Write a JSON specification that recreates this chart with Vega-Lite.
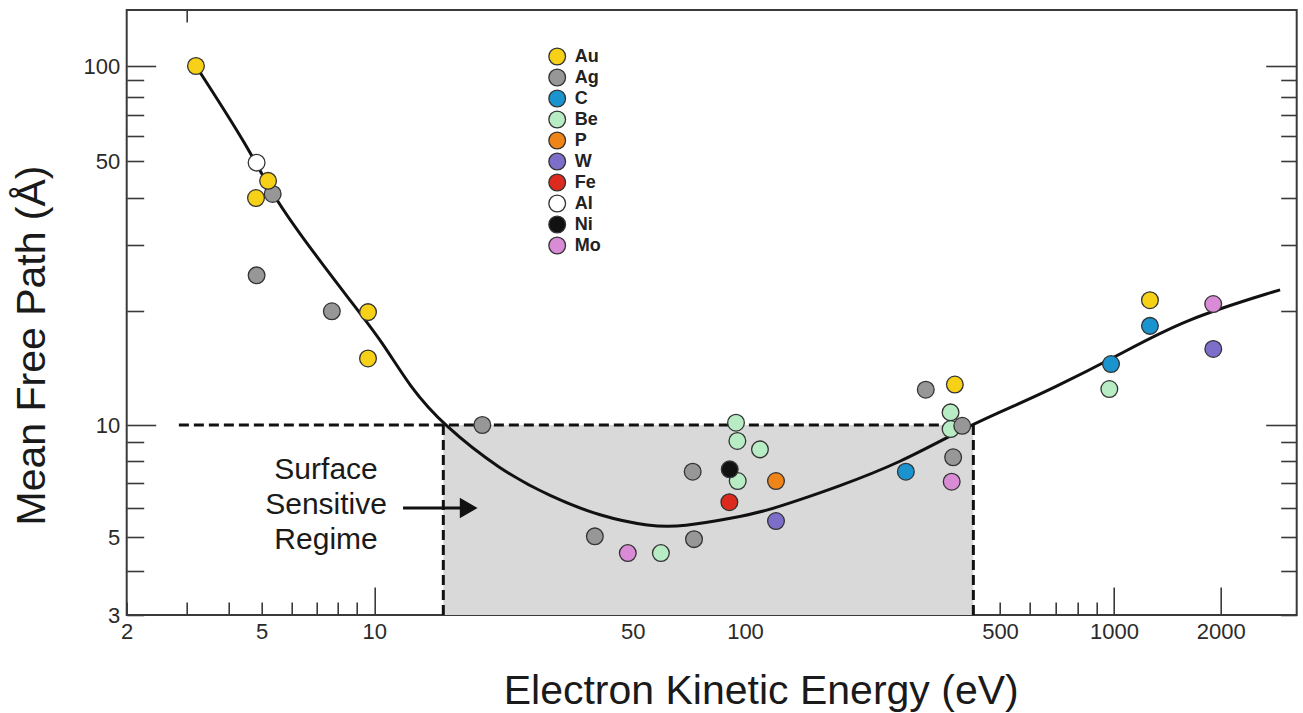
{
  "$schema": "https://vega.github.io/schema/vega-lite/v6.json",
  "width": 1170,
  "height": 605,
  "autosize": {"type": "none"},
  "padding": {"left": 126.7, "top": 10, "right": 6.3, "bottom": 98},
  "background": "white",
  "config": {
    "font": "Liberation Sans",
    "view": {"stroke": "#3a3a3a", "strokeWidth": 2},
    "axis": {
      "domain": false, "grid": false, "tickColor": "#3a3a3a", "tickWidth": 1.6,
      "labelColor": "#2a2a2a", "labelFont": "Liberation Sans", "labelFontSize": 22,
      "titleFont": "Liberation Sans", "titleFontWeight": "normal", "titleColor": "#1a1a1a"
    }
  },
  "datasets": {
    "points": [
      {"element": "Ag", "energy": 5.35, "mfp": 40.9},
      {"element": "Au", "energy": 3.2, "mfp": 100},
      {"element": "Au", "energy": 4.81, "mfp": 39.9},
      {"element": "Au", "energy": 5.2, "mfp": 44.3},
      {"element": "Au", "energy": 9.62, "mfp": 19.9},
      {"element": "Au", "energy": 9.62, "mfp": 15.0},
      {"element": "Au", "energy": 376, "mfp": 12.8},
      {"element": "Au", "energy": 1263, "mfp": 21.4},
      {"element": "Ag", "energy": 4.83, "mfp": 24.9},
      {"element": "Ag", "energy": 7.7, "mfp": 20.0},
      {"element": "Ag", "energy": 19.6, "mfp": 10.0},
      {"element": "Ag", "energy": 39.5, "mfp": 5.02},
      {"element": "Ag", "energy": 72.4, "mfp": 7.49},
      {"element": "Ag", "energy": 73.0, "mfp": 4.93},
      {"element": "Ag", "energy": 313, "mfp": 12.4},
      {"element": "Ag", "energy": 372, "mfp": 8.19},
      {"element": "C", "energy": 276, "mfp": 7.49},
      {"element": "C", "energy": 982, "mfp": 14.5},
      {"element": "C", "energy": 1263, "mfp": 18.3},
      {"element": "Be", "energy": 94.6, "mfp": 10.14},
      {"element": "Be", "energy": 95.4, "mfp": 9.06},
      {"element": "Be", "energy": 109.9, "mfp": 8.6},
      {"element": "Be", "energy": 95.6, "mfp": 7.07},
      {"element": "Be", "energy": 59.5, "mfp": 4.5},
      {"element": "Be", "energy": 366, "mfp": 10.8},
      {"element": "Be", "energy": 366, "mfp": 9.75},
      {"element": "Be", "energy": 972, "mfp": 12.45},
      {"element": "Ag", "energy": 394, "mfp": 9.95},
      {"element": "P", "energy": 121.6, "mfp": 7.07},
      {"element": "W", "energy": 121.6, "mfp": 5.52},
      {"element": "W", "energy": 1906, "mfp": 15.9},
      {"element": "Fe", "energy": 90.8, "mfp": 6.2},
      {"element": "Al", "energy": 4.83, "mfp": 49.5},
      {"element": "Ni", "energy": 91, "mfp": 7.6},
      {"element": "Mo", "energy": 48.5, "mfp": 4.5},
      {"element": "Mo", "energy": 368.6, "mfp": 7.04},
      {"element": "Mo", "energy": 1905, "mfp": 20.9}
    ],
    "curve": [
      {"e": 3.2, "m": 100}, {"e": 4.62, "m": 54.2}, {"e": 5.36, "m": 40.2},
      {"e": 7.01, "m": 27.9}, {"e": 8.61, "m": 21.4}, {"e": 10.56, "m": 16.5},
      {"e": 12.49, "m": 12.6}, {"e": 15.37, "m": 10.0}, {"e": 21.9, "m": 7.57},
      {"e": 29.9, "m": 6.42}, {"e": 40.8, "m": 5.68}, {"e": 55.7, "m": 5.33},
      {"e": 68.2, "m": 5.33}, {"e": 92.9, "m": 5.62}, {"e": 114.7, "m": 5.88},
      {"e": 141.5, "m": 6.3}, {"e": 174.2, "m": 6.75}, {"e": 266, "m": 7.9},
      {"e": 405, "m": 9.9}, {"e": 563, "m": 11.4}, {"e": 678, "m": 12.4},
      {"e": 1018, "m": 15.2}, {"e": 1565, "m": 19.0}, {"e": 2861, "m": 22.8}
    ],
    "region": [{"x1": 15.37, "x2": 422.6, "y1": 3, "y2": 10}],
    "dashes": [
      {"x1": 2.85, "x2": 422.6, "y1": 10, "y2": 10},
      {"x1": 15.37, "x2": 15.37, "y1": 3, "y2": 10},
      {"x1": 422.6, "x2": 422.6, "y1": 3, "y2": 10}
    ],
    "label": [{"x": 7.43, "y": 7.57, "text": "Surface\nSensitive\nRegime"}],
    "arrow": [{"x1": 11.96, "x2": 17.3, "y": 5.98}],
    "arrowhead": [{"x": 18.0, "y": 5.98}]
  },
  "resolve": {"axis": {"x": "independent", "y": "independent"}},
  "layer": [
    {
      "data": {"name": "region"},
      "mark": {"type": "rect", "color": "#d9d9d9"},
      "encoding": {
        "x": {
          "field": "x1", "type": "quantitative",
          "scale": {"type": "log", "domain": [2, 5, 10, 50, 100, 500, 1000, 2000, 3162], "range": [0, 135, 247.6, 506, 618.3, 873.3, 987.3, 1094, 1170], "nice": false, "zero": false},
          "axis": {
            "orient": "bottom",
            "values": [2, 3, 4, 5, 6, 7, 8, 9, 10, 20, 30, 40, 50, 60, 70, 80, 90, 100, 200, 300, 400, 500, 600, 700, 800, 900, 1000, 2000],
            "tickSize": {"condition": {"test": "indexof([10,100,1000,2000], datum.value) >= 0", "value": -28}, "value": -13},
            "labelPadding": {"condition": {"test": "indexof([10,100,1000,2000], datum.value) >= 0", "value": 34}, "value": 19},
            "labelExpr": "indexof([2,5,10,50,100,500,1000,2000], datum.value) >= 0 ? datum.value + '' : ''",
            "labelOverlap": false, "labelFlush": false,
            "title": "Electron Kinetic Energy (eV)", "titleFontSize": 41,
            "titleX": 634, "titleY": 88, "titleBaseline": "alphabetic"
          }
        },
        "x2": {"field": "x2"},
        "y": {
          "field": "y1", "type": "quantitative",
          "scale": {"type": "log", "domain": [3, 5, 10, 50, 100, 150], "range": [605, 527, 415, 151, 56, 0], "nice": false, "zero": false},
          "axis": {
            "orient": "left",
            "values": [3, 4, 5, 6, 7, 8, 9, 10, 20, 30, 40, 50, 60, 70, 80, 90, 100],
            "tickSize": {"condition": {"test": "datum.value == 10 || datum.value == 100", "value": -29}, "value": -17},
            "labelPadding": {"condition": {"test": "datum.value == 10 || datum.value == 100", "value": 36}, "value": 24},
            "labelExpr": "indexof([3,5,10,50,100], datum.value) >= 0 ? datum.value + '' : ''",
            "labelOverlap": false, "labelFlush": false,
            "title": "Mean Free Path (Å)", "titleFontSize": 41,
            "titleX": -82, "titleY": 335, "titleAngle": -90, "titleBaseline": "alphabetic"
          }
        },
        "y2": {"field": "y2"}
      }
    },
    {
      "data": {"name": "dashes"},
      "mark": {"type": "rule", "color": "#111111", "strokeWidth": 3, "strokeDash": [10, 5]},
      "encoding": {
        "x": {"field": "x1", "type": "quantitative", "axis": null},
        "x2": {"field": "x2"},
        "y": {"field": "y1", "type": "quantitative", "axis": null},
        "y2": {"field": "y2"}
      }
    },
    {
      "data": {"name": "curve"},
      "mark": {"type": "line", "color": "#111111", "strokeWidth": 3, "interpolate": "basis"},
      "encoding": {
        "x": {
          "field": "e", "type": "quantitative",
          "axis": {"orient": "top", "values": [3], "tickSize": -12, "labels": false, "title": null}
        },
        "y": {
          "field": "m", "type": "quantitative",
          "axis": {
            "orient": "right",
            "values": [3, 4, 5, 6, 7, 8, 9, 10, 20, 30, 40, 50, 60, 70, 80, 90, 100],
            "tickSize": {"condition": {"test": "datum.value == 10 || datum.value == 100", "value": -31}, "value": -16},
            "labels": false, "title": null
          }
        }
      }
    },
    {
      "data": {"name": "points"},
      "mark": {"type": "point", "filled": true, "shape": "circle", "size": 280, "stroke": "#333333", "strokeWidth": 1.3, "opacity": 1},
      "encoding": {
        "x": {"field": "energy", "type": "quantitative", "axis": null},
        "y": {"field": "mfp", "type": "quantitative", "axis": null},
        "fill": {
          "field": "element", "type": "nominal",
          "scale": {
            "domain": ["Au", "Ag", "C", "Be", "P", "W", "Fe", "Al", "Ni", "Mo"],
            "range": ["#f7d117", "#979797", "#1a93cf", "#b8ecc4", "#ef8418", "#7d6ec9", "#dc2b1e", "#ffffff", "#111111", "#d98bd5"]
          },
          "legend": {
            "orient": "none", "legendX": 421, "legendY": 37, "title": null, "padding": 0,
            "symbolType": "circle", "symbolSize": 280, "symbolStrokeColor": "#333333", "symbolStrokeWidth": 1.3,
            "labelFontSize": 18, "labelFontWeight": "bold", "labelFont": "Liberation Sans", "labelColor": "#222222",
            "rowPadding": -2.2, "labelOffset": 8
          }
        }
      }
    },
    {
      "data": {"name": "label"},
      "mark": {"type": "text", "fontSize": 30, "align": "center", "baseline": "middle", "lineBreak": "\n", "lineHeight": 35, "color": "#1a1a1a"},
      "encoding": {
        "x": {"field": "x", "type": "quantitative", "axis": null},
        "y": {"field": "y", "type": "quantitative", "axis": null},
        "text": {"field": "text"}
      }
    },
    {
      "data": {"name": "arrow"},
      "mark": {"type": "rule", "color": "#111111", "strokeWidth": 3},
      "encoding": {
        "x": {"field": "x1", "type": "quantitative", "axis": null},
        "x2": {"field": "x2"},
        "y": {"field": "y", "type": "quantitative", "axis": null}
      }
    },
    {
      "data": {"name": "arrowhead"},
      "mark": {"type": "point", "shape": "triangle-right", "filled": true, "size": 420, "color": "#111111", "opacity": 1},
      "encoding": {
        "x": {"field": "x", "type": "quantitative", "axis": null},
        "y": {"field": "y", "type": "quantitative", "axis": null}
      }
    }
  ]
}
